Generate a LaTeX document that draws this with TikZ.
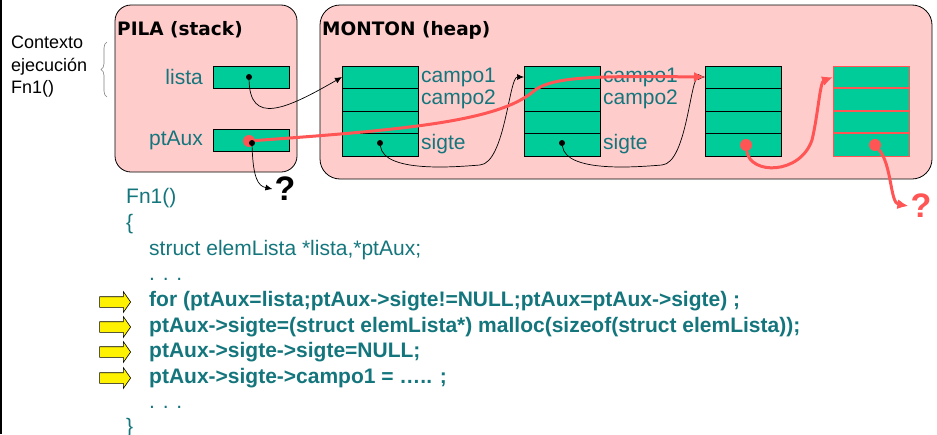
\documentclass[tikz,border=0pt]{standalone}
\usepackage{fontspec}
\setmainfont{Liberation Sans}
\newfontfamily\headfont{DejaVu Sans}
\usepackage{tikz}
\usetikzlibrary{positioning,arrows.meta,shapes.arrows,decorations.pathreplacing}
\definecolor{pilapink}{HTML}{FFCCCC}
\definecolor{cellgreen}{HTML}{00CC99}
\definecolor{codeteal}{HTML}{14767C}
\definecolor{newred}{HTML}{FF5555}
\tikzset{
  area/.style={draw,rounded corners=16pt,fill=pilapink,line width=0.8pt,inner sep=0},
  titletxt/.style={font=\headfont\bfseries\fontsize{18.5}{22}\selectfont,anchor=west,inner sep=0},
  cell/.style={draw,fill=cellgreen,line width=0.9pt,minimum width=76pt,minimum height=22.5pt,inner sep=0,outer sep=0},
  lbl/.style={text=codeteal,font=\fontsize{21}{25}\selectfont,inner sep=0},
  code/.style={lbl,anchor=west,text height=15pt,text depth=4pt},
  bcode/.style={code,font=\bfseries\fontsize{21}{25}\selectfont},
  ptrdot/.style={circle,fill=black,inner sep=0,minimum size=6pt},
  reddot/.style={circle,fill=newred,inner sep=0,minimum size=12pt},
  yarr/.style={single arrow,draw,fill=yellow,line width=0.6pt,inner xsep=0,inner ysep=5pt,
    text height=0pt,text depth=0pt,single arrow head extend=5pt,single arrow tip angle=110,
    minimum height=31pt,anchor=east},
  arr/.style={-{Latex[length=7pt,width=6pt]},line width=0.7pt},
  rarr/.style={-{Latex[length=11pt,width=10pt]},line width=3pt,draw=newred},
  ask/.style={font=\bfseries\fontsize{34}{34}\selectfont,inner sep=2pt},
}

\begin{document}
\begin{tikzpicture}[x=1pt,y=-1pt,node distance=6pt]
\useasboundingbox (0,0) rectangle (937,434);
\draw[line width=2pt] (1,0) -- (1,434);

\node[area,minimum width=182pt,minimum height=167pt] (pila) at (206,88.5) {};
\node[area,rounded corners=20pt,minimum width=612pt,minimum height=174pt] (heap) at (626,92) {};
\node[titletxt] (pilat) at (117,30) {PILA (stack)};
\node[titletxt] (heapt) at (322,30) {MONTON (heap)};

\node[font=\fontsize{18}{22.5}\selectfont,align=left,anchor=west,inner sep=0] (ctx) at (11,67) {Contexto\\ejecución\\Fn1()};
\draw[gray,line width=0.6pt,decorate,decoration={brace,amplitude=6pt}] (107,97) -- (107,42);

\node[cell,minimum height=22pt] (vlista) at (251,77) {};
\node[cell,minimum height=22pt] (vpt) at (251,140) {};
\node[lbl,left=10pt of vlista] (llista) {lista};
\node[lbl,left=10pt of vpt] (lpt) {ptAux};

\foreach \n/\x/\c in {1/342/black,2/524/black,3/705/black,4/833/newred}
  \foreach \k/\yy in {1/66,2/88,3/111,4/133}
    \node[cell,draw=\c,anchor=north west,minimum height={(\k==4 ? 23 : (\k==2 ? 23 : 22))*1pt}] (e\n-\k) at (\x,\yy) {};
\foreach \k in {1,2,3}
  \draw[newred,line width=1.5pt] (e4-\k.south west) -- (e4-\k.south east);
\foreach \n in {1,2} {
  \node[lbl,right=3pt of e\n-1] (l\n-1) {campo1};
  \node[lbl,right=3pt of e\n-2] (l\n-2) {campo2};
  \node[lbl,right=3pt of e\n-4] (l\n-4) {sigte};
}

\node[ptrdot] (dl) at (249,77) {};
\node[reddot] (rp) at (249,141) {};
\node[ptrdot] (d1) at (380,143) {};
\node[ptrdot] (d2) at (562,143) {};
\node[reddot] (d3) at (746,145) {};
\node[reddot] (d4) at (875,145) {};
\node[ask] (q1) at (285,189) {?};
\node[ask,text=newred] (q2) at (921,206) {?};

\draw[arr] (dl) .. controls (250,125) and (285,110) .. (e1-1.west);
\draw[arr] (d1) .. controls +(4,30) and +(-25,2) .. ++(100,22) .. controls +(25,-2) and +(-15,0) .. (e2-1.west);
\draw[arr] (d2) .. controls +(4,30) and +(-25,2) .. ++(100,22) .. controls +(25,-2) and +(-15,0) .. (e3-1.west);

\draw[rarr] (rp) .. controls (400,130) and (500,122) .. (535,90) .. controls (555,76) and (600,76) .. (e3-1.west);
\draw[rarr] (d3) .. controls (750,175) and (800,175) .. (812,140) .. controls (818,115) and (820,82) .. (e4-1.west);
\draw[rarr] (d4) .. controls (892,165) and (890,203) .. (q2.west);

\node[ptrdot] (dp) at (252,143) {};
\draw[arr] (dp) .. controls (253,178) and (258,186) .. (q1.west);

\node[code] (c1) at (126,198) {Fn1()};
\node[code] (c2) at (126,224) {\{};
\node[code] (c3) at (149,250) {struct elemLista *lista,*ptAux;};
\node[code] (c4) at (149,275) {. . .};
\node[bcode] (c5) at (149,301) {for (ptAux=lista;ptAux->sigte!=NULL;ptAux=ptAux->sigte) ;};
\node[bcode] (c6) at (149,327) {ptAux->sigte=(struct elemLista*) malloc(sizeof(struct elemLista));};
\node[bcode] (c7) at (149,352) {ptAux->sigte->sigte=NULL;};
\node[bcode] (c8) at (149,378) {ptAux->sigte->campo1 = ….. ;};
\node[code] (c9) at (149,403) {. . .};
\node[code] (c10) at (126,428) {\}};

\foreach \i/\yy in {1/302,2/327,3/352,4/378}
  \node[yarr] (ya\i) at (131,\yy) {};
\end{tikzpicture}
\end{document}
